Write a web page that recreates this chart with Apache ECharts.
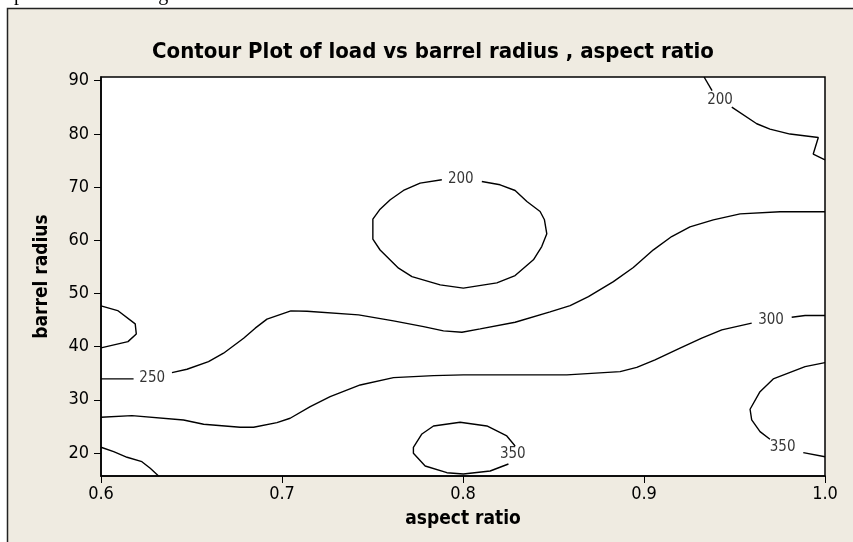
<!DOCTYPE html>
<html>
<head>
<meta charset="utf-8">
<title>Contour Plot of load vs barrel radius , aspect ratio</title>
<script src="https://cdn.jsdelivr.net/npm/echarts@6/dist/echarts.min.js"></script>
<style>
  html, body { margin: 0; padding: 0; background: #fff; }
  #chart { width: 853px; height: 542px; }
</style>
</head>
<body>
<div id="chart"></div>
<script>
// axis ticks
let xTicks = [0.6, 0.7, 0.8, 0.9, 1.0];
let yTicks = [20, 30, 40, 50, 60, 70, 80, 90];

// contour lines, [aspect ratio, barrel radius]
// 200 - top right, split where the label sits
let c200TopA = [[0.9332, 90.7], [0.9376, 88.12]];
let c200TopB = [[0.9485, 85.05], [0.9623, 81.91], [0.9696, 80.91], [0.9807, 79.97],
    [0.9963, 79.33], [0.9935, 76.21], [1.0, 75.13]];

// 200 - closed loop in the middle, gap for the label at the top
let c200Loop = [[0.8104, 71.05], [0.8205, 70.43], [0.8288, 69.36], [0.8353, 67.29],
    [0.8426, 65.41], [0.8450, 63.85], [0.8463, 61.21], [0.8435, 58.82], [0.8389, 56.32],
    [0.8288, 53.36], [0.8187, 51.99], [0.8002, 50.99], [0.7874, 51.61], [0.7718, 53.17],
    [0.7644, 54.75], [0.7542, 58.17], [0.7502, 60.21], [0.7502, 63.98], [0.7539, 65.73],
    [0.7598, 67.61], [0.7671, 69.36], [0.7763, 70.75], [0.7883, 71.37]];

// small lobe on the left edge
let c250Lobe = [[0.6, 47.66], [0.6092, 46.78], [0.6189, 44.27], [0.6195, 42.39],
    [0.6149, 40.94], [0.6, 39.76]];

// 250 - long line across
let c250A = [[0.6, 33.93], [0.6180, 33.93]];
let c250B = [[0.6392, 35.11], [0.6475, 35.75], [0.6594, 37.18], [0.6677, 38.76],
    [0.6788, 41.58], [0.6852, 43.47], [0.6917, 45.16], [0.7049, 46.72], [0.7138, 46.66],
    [0.7423, 45.97], [0.7616, 44.84], [0.7782, 43.77], [0.7892, 42.96], [0.7994, 42.71],
    [0.8095, 43.33], [0.8288, 44.59], [0.8481, 46.53], [0.8592, 47.72], [0.8693, 49.41],
    [0.8831, 52.23], [0.8941, 54.87], [0.9052, 58.20], [0.9153, 60.70], [0.9254, 62.53],
    [0.9383, 63.84], [0.9531, 64.97], [0.9752, 65.35], [1.0, 65.35]];

// 300
let c300A = [[0.6, 26.72], [0.6171, 27.02], [0.6456, 26.21], [0.6567, 25.40],
    [0.6769, 24.84], [0.6843, 24.84], [0.6972, 25.70], [0.7045, 26.53], [0.7156, 28.71],
    [0.7266, 30.59], [0.7432, 32.79], [0.7616, 34.17], [0.7837, 34.55], [0.8002, 34.68],
    [0.8574, 34.68], [0.8868, 35.30], [0.8960, 36.09], [0.9061, 37.50], [0.9199, 39.70],
    [0.9319, 41.58], [0.9430, 43.15], [0.9595, 44.41]];
let c300B = [[0.9816, 45.53], [0.9890, 45.84], [1.0, 45.84]];

// 350 - loop at the bottom middle
let c350Loop = [[0.8251, 17.93], [0.8150, 16.61], [0.8002, 16.05], [0.7911, 16.29],
    [0.7791, 17.55], [0.7726, 19.94], [0.7726, 21.07], [0.7773, 23.57], [0.7837, 25.08],
    [0.7984, 25.78], [0.8132, 25.08], [0.8242, 23.20], [0.8288, 21.32]];

// 350 - right edge
let c350RightA = [[1.0, 36.99], [0.9890, 36.24], [0.9714, 33.92], [0.9641, 31.53],
    [0.9586, 28.22], [0.9595, 26.21], [0.9641, 24.01], [0.9696, 22.58]];
let c350RightB = [[0.9880, 20.06], [1.0, 19.30]];

// 350 - bottom left corner
let c350Corner = [[0.6, 21.07], [0.6070, 20.24], [0.6144, 19.19], [0.6226, 18.36],
    [0.6272, 17.12], [0.6318, 15.67]];

// contour labels [x, y, text]
let contourLabels = [[0.9420, 86.42, '200'], [0.7988, 71.50, '200'], [0.6283, 34.11, '250'],
    [0.9702, 44.97, '300'], [0.8275, 19.81, '350'], [0.9766, 21.07, '350']];

let lines = [c200TopA, c200TopB, c200Loop, c250Lobe, c250A, c250B, c300A, c300B,
    c350Loop, c350RightA, c350RightB, c350Corner];

let tickFont = "'DejaVu Sans Condensed', 'DejaVu Sans', sans-serif";

let myChart = echarts.init(document.getElementById('chart'), null, {renderer: 'canvas'});

let seriesArray = [];
lines.forEach(function (pts) {
    seriesArray.push({
        type: 'line',
        data: pts,
        showSymbol: false,
        symbol: 'none',
        silent: true,
        lineStyle: {color: '#000', width: 1.4}
    });
});
seriesArray.push({
    type: 'scatter',
    symbolSize: 0,
    silent: true,
    data: contourLabels,
    label: {
        show: true,
        position: 'inside',
        color: '#000',
        fontSize: 15,
        fontFamily: tickFont,
        formatter: function (p) { return p.value[2]; }
    }
});

let option = {
    animation: false,
    backgroundColor: '#fff',
    graphic: [
        {
            type: 'rect',
            z: -10,
            shape: {x: 7.5, y: 8.5, width: 900, height: 600},
            style: {fill: '#EFEBE1', stroke: '#222', lineWidth: 1.5}
        },
        {
            // bit of the page text above the figure, mostly cut off
            type: 'text',
            x: 0,
            y: 5,
            style: {
                text: 'e plot is shown in fig. 11.',
                font: "20px 'Liberation Serif', serif",
                fill: '#000',
                verticalAlign: 'bottom'
            }
        }
    ],
    title: {
        text: 'Contour Plot of load vs barrel radius , aspect ratio',
        left: 428,
        top: 36,
        textAlign: 'center',
        textStyle: {
            color: '#000',
            fontSize: 22,
            fontWeight: 'bold',
            fontFamily: tickFont
        }
    },
    grid: {
        left: 101,
        right: 28,
        top: 77,
        bottom: 66,
        show: true,
        backgroundColor: '#fff',
        borderColor: '#000',
        borderWidth: 1.5
    },
    xAxis: {
        type: 'value',
        min: 0.6,
        max: 1.0,
        interval: 0.1,
        name: 'aspect ratio',
        nameLocation: 'middle',
        nameGap: 34,
        nameTextStyle: {color: '#000', fontSize: 19, fontWeight: 'bold', fontFamily: tickFont},
        axisLine: {show: true, lineStyle: {color: '#000', width: 1.5}},
        axisTick: {show: true, length: 7, lineStyle: {color: '#000'}},
        axisLabel: {
            color: '#000', fontSize: 18, fontFamily: tickFont, margin: 9,
            formatter: function (v) { return v.toFixed(1); }
        },
        splitLine: {show: false}
    },
    yAxis: {
        type: 'value',
        min: 15.67,
        max: 90.7,
        name: 'barrel radius',
        nameLocation: 'middle',
        nameGap: 49,
        nameTextStyle: {color: '#000', fontSize: 19, fontWeight: 'bold', fontFamily: tickFont},
        axisLine: {show: true, lineStyle: {color: '#000', width: 1.5}},
        axisTick: {show: true, length: 7, customValues: yTicks, lineStyle: {color: '#000'}},
        axisLabel: {
            color: '#000', fontSize: 18, fontFamily: tickFont, margin: 12,
            customValues: yTicks
        },
        splitLine: {show: false}
    },
    series: seriesArray
};

myChart.setOption(option);
</script>
</body>
</html>
